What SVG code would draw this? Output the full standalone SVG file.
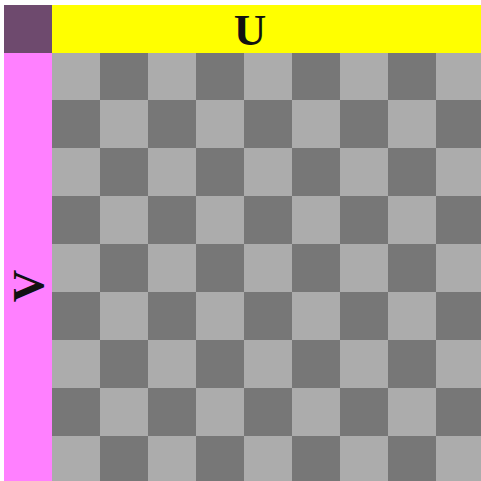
<svg xmlns="http://www.w3.org/2000/svg" width="481" height="481" viewBox="0 0 481 481">
<defs>
<style>
.lt{fill:#acacac}
.dk{fill:#777777}
.lbl{font-family:"Liberation Serif","Times New Roman",serif;font-weight:bold;font-size:45px;fill:#111}
</style>
<pattern id="chk" x="52" y="52" width="96" height="96" patternUnits="userSpaceOnUse">
<rect class="lt" x="0" y="0" width="96" height="96"/>
<rect class="dk" x="48" y="0" width="48" height="48"/>
<rect class="dk" x="0" y="48" width="48" height="48"/>
</pattern>
</defs>
<rect x="0" y="0" width="481" height="481" fill="#ffffff"/>
<g id="corner"><rect x="4" y="5" width="48" height="48" fill="#6e4a6e"/></g>
<g id="U"><rect x="52" y="5" width="429" height="48" fill="#ffff00"/><text class="lbl" x="250" y="45" text-anchor="middle">U</text></g>
<g id="V"><rect x="4" y="53" width="48" height="428" fill="#ff80ff"/><text class="lbl" transform="translate(43,286) rotate(-90)" text-anchor="middle">V</text></g>
<g id="grid"><rect x="52" y="53" width="429" height="428" fill="url(#chk)"/></g>
</svg>
